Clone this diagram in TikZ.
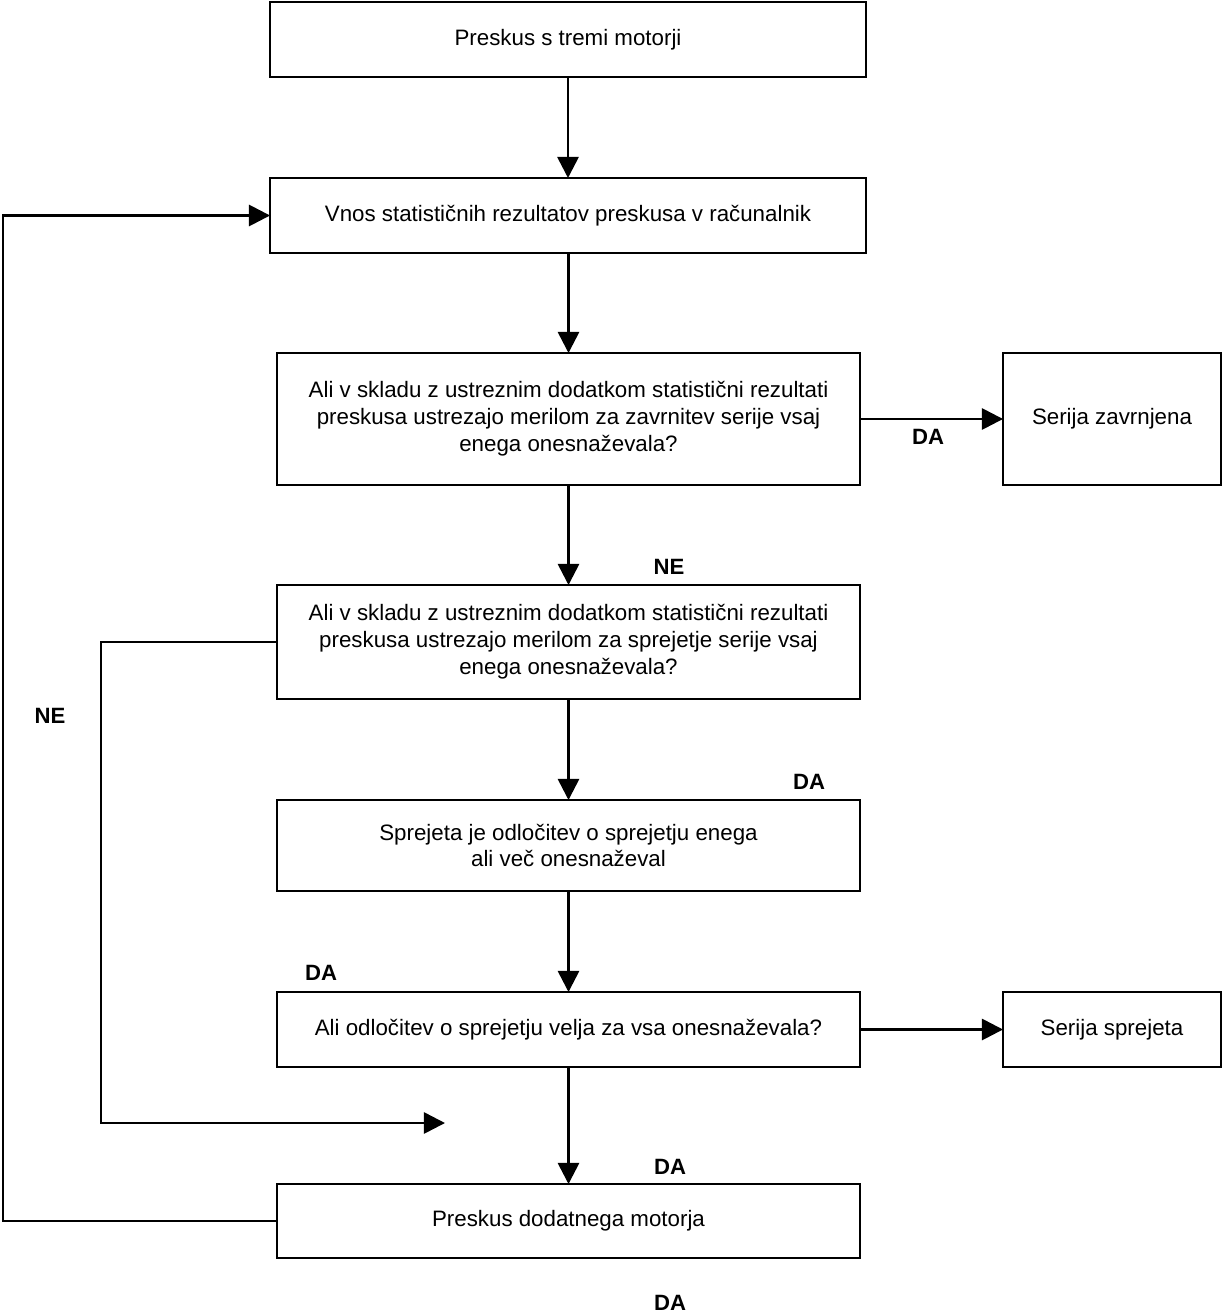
\documentclass[tikz,border=0pt]{standalone}
\usepackage{fontspec}
\setmainfont{Liberation Sans}
\usetikzlibrary{arrows.meta}
\begin{document}
\begin{tikzpicture}[x=0.02cm,y=-0.02cm,
  box/.style={draw,line width=1.5pt,inner sep=0pt,outer sep=0pt,align=center,
    font=\fontsize{12.7}{15.3}\selectfont},
  conn/.style={line width=1.5pt,-{Triangle[length=12pt,width=12pt]}},
  lbl/.style={font=\fontsize{12.6}{15}\selectfont\bfseries,inner sep=0pt}]
\useasboundingbox (0,0) rectangle (1223,1314);
\node[box,minimum width=11.92cm,minimum height=1.5cm] (b1) at (568,39.5) {Preskus s tremi motorji};
\node[box,minimum width=11.92cm,minimum height=1.5cm] (b2) at (568,215.5) {Vnos statističnih rezultatov preskusa v računalnik};
\node[box,minimum width=11.66cm,minimum height=2.64cm] (b3) at (568.5,419) {Ali v skladu z ustreznim dodatkom statistični rezultati\\preskusa ustrezajo merilom za zavrnitev serije vsaj\\enega onesnaževala?};
\node[box,minimum width=4.36cm,minimum height=2.64cm] (b4) at (1112,419) {Serija zavrnjena};
\node[box,minimum width=11.66cm,minimum height=2.28cm] (b5) at (568.5,642) {Ali v skladu z ustreznim dodatkom statistični rezultati\\preskusa ustrezajo merilom za sprejetje serije vsaj\\enega onesnaževala?};
\node[box,minimum width=11.66cm,minimum height=1.82cm] (b6) at (568.5,845.5) {Sprejeta je odločitev o sprejetju enega\\ali več onesnaževal};
\node[box,minimum width=11.66cm,minimum height=1.5cm] (b7) at (568.5,1029.5) {Ali odločitev o sprejetju velja za vsa onesnaževala?};
\node[box,minimum width=4.36cm,minimum height=1.5cm] (b8) at (1112,1029.5) {Serija sprejeta};
\node[box,minimum width=11.66cm,minimum height=1.48cm] (b9) at (568.5,1221) {Preskus dodatnega motorja};
\coordinate (free) at (445,1123);
\draw[conn] (b1.south) -- (b2.north);
\draw[conn] (b3.north |- b2.south) -- (b3.north);
\draw[conn] (b3.south) -- (b5.north);
\draw[conn] (b5.south) -- (b6.north);
\draw[conn] (b6.south) -- (b7.north);
\draw[conn] (b7.south) -- (b9.north);
\draw[conn] (b3.east) -- (b4.west);
\draw[conn] (b7.east) -- (b8.west);
\draw[conn] (b9.west) -- (3,1221) -- (3,215.5) -- (b2.west);
\draw[conn] (b5.west) -- (101,642) -- (101,1123) -- (free);
\node[lbl] (l1) at (928,437) {DA};
\node[lbl] (l2) at (669,567) {NE};
\node[lbl] (l3) at (50,716) {NE};
\node[lbl] (l4) at (809,782) {DA};
\node[lbl] (l5) at (321,973) {DA};
\node[lbl] (l6) at (670,1167) {DA};
\node[lbl] (l7) at (670,1303) {DA};
\end{tikzpicture}
\end{document}
